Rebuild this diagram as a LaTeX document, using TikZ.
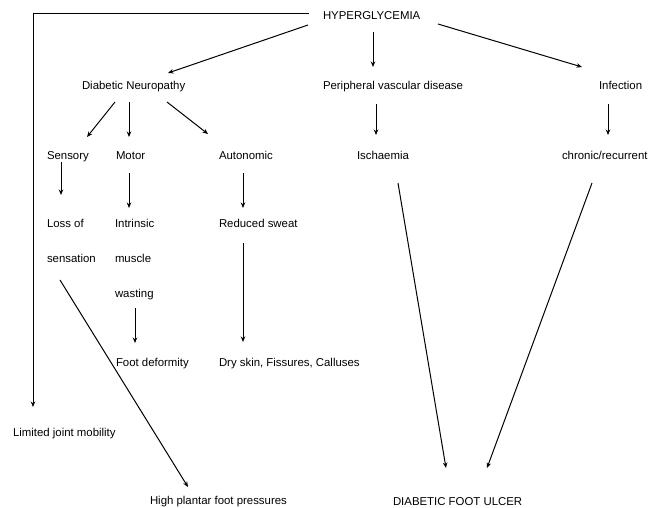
\documentclass[tikz,border=0pt]{standalone}
\usepackage{fontspec}
\setmainfont{Liberation Sans}
\usetikzlibrary{arrows.meta}
\tikzset{
  lbl/.style = {anchor=base west, inner sep=0pt, outer sep=0pt, font=\fontsize{11.4}{13.7}\selectfont},
  arr/.style = {line width=1pt, -{Stealth[length=5.5pt,width=4.5pt]}}
}
\begin{document}
\begin{tikzpicture} [x = 1pt, y = -1pt]
	\useasboundingbox (0,0) rectangle (662,507);
	% top level
	\node [lbl] (hyper) at (323,19) {HYPERGLYCEMIA};
	\node [lbl] (neuro) at (82,89) {Diabetic Neuropathy};
	\node [lbl] (pvd) at (323,89) {Peripheral vascular disease};
	\node [lbl] (infect) at (599,89) {Infection};
	% second level
	\node [lbl] (sensory) at (47,159) {Sensory};
	\node [lbl] (motor) at (116,159) {Motor};
	\node [lbl] (autonom) at (219,159) {Autonomic};
	\node [lbl] (ischaem) at (357,159) {Ischaemia};
	\node [lbl] (chronic) at (562,159) {chronic/recurrent};
	% third level
	\node [lbl] (loss) at (47,227) {Loss of};
	\node [lbl] (sensation) at (47,262) {sensation};
	\node [lbl] (intrinsic) at (115,227) {Intrinsic};
	\node [lbl] (muscle) at (115,262) {muscle};
	\node [lbl] (wasting) at (115,297) {wasting};
	\node [lbl] (sweat) at (219,227) {Reduced sweat};
	\node [lbl] (deform) at (116,366) {Foot deformity};
	\node [lbl] (dryskin) at (219,366) {Dry skin, Fissures, Calluses};
	% bottom
	\node [lbl] (limited) at (13,436) {Limited joint mobility};
	\node [lbl] (plantar) at (150,504) {High plantar foot pressures};
	\node [lbl] (ulcer) at (393,505) {DIABETIC FOOT ULCER};
	% connectors
	\draw [arr] ([shift={(-14,-6)}]hyper.base west) -| ([shift={(20,-29)}]limited.base west);
	\draw [arr] ([shift={(-15,6)}]hyper.base west) -- ([shift={(86,-16)}]neuro.base west);
	\draw [arr] ([shift={(50,13)}]hyper.base west) -- ([shift={(50,-22)}]pvd.base west);
	\draw [arr] ([shift={(115,5)}]hyper.base west) -- ([shift={(-17,-22)}]infect.base west);
	\draw [arr] ([shift={(33,13)}]neuro.base west) -- ([shift={(40,-22)}]sensory.base west);
	\draw [arr] ([shift={(47,13)}]neuro.base west) -- ([shift={(13,-22)}]motor.base west);
	\draw [arr] ([shift={(85,13)}]neuro.base west) -- ([shift={(-11,-25)}]autonom.base west);
	\draw [arr] ([shift={(53,15)}]pvd.base west) -- ([shift={(19,-24)}]ischaem.base west);
	\draw [arr] ([shift={(9,15)}]infect.base west) -- ([shift={(46,-24)}]chronic.base west);
	\draw [arr] ([shift={(14,3)}]sensory.base west) -- ([shift={(14,-32)}]loss.base west);
	\draw [arr] ([shift={(13,14)}]motor.base west) -- ([shift={(14,-19)}]intrinsic.base west);
	\draw [arr] ([shift={(24,14)}]autonom.base west) -- ([shift={(24,-19)}]sweat.base west);
	\draw [arr] ([shift={(20,11)}]wasting.base west) -- ([shift={(19,-23)}]deform.base west);
	\draw [arr] ([shift={(24,16)}]sweat.base west) -- ([shift={(24,-24)}]dryskin.base west);
	\draw [arr] ([shift={(13,18)}]sensation.base west) -- ([shift={(38,-17)}]plantar.base west);
	\draw [arr] ([shift={(41,24)}]ischaem.base west) -- ([shift={(53,-37)}]ulcer.base west);
	\draw [arr] ([shift={(30,24)}]chronic.base west) -- ([shift={(94,-37)}]ulcer.base west);
\end{tikzpicture}
\end{document}
